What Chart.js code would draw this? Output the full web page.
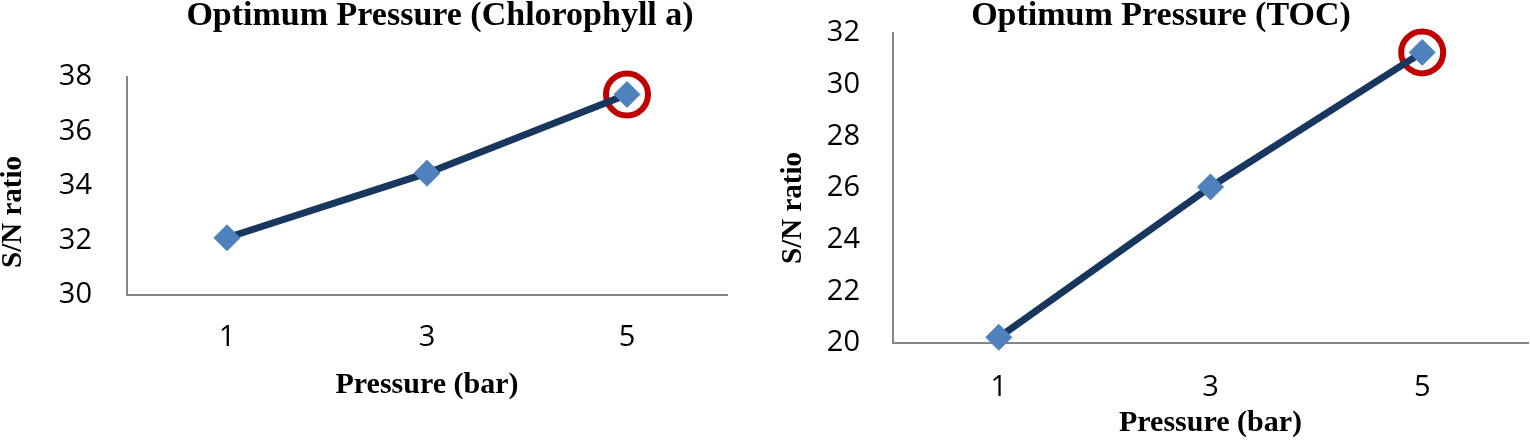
<!DOCTYPE html>
<html>
<head>
<meta charset="utf-8">
<script src="https://cdn.jsdelivr.net/npm/chart.js@4.4.1/dist/chart.umd.min.js"></script>
<style>
    html, body { margin: 0; padding: 0; background: #fff; overflow: hidden; }
    .wrap { position: absolute; top: 0; width: 760px; height: 443px; }
</style>
</head>
<body>
<div class="wrap" style="left:0"><canvas id="chlChart"></canvas></div>
<div class="wrap" style="left:770px"><canvas id="tocChart"></canvas></div>
<script>
// pressure levels (bar) and S/N ratios
const pressureLabels = ['1', '3', '5'];
const chlorophyllSN = [32.1, 34.47, 37.36];
const tocSN = [20.22, 26.04, 31.25];
// the optimum is the last level in both charts
const optimumIndex = 2;

const serif = '"Liberation Serif", "Times New Roman", serif';
const sans = '"Open Sans", "Liberation Sans", sans-serif';

function onlyOptimum(arr) {
    return arr.map(function (v, i) { return i === optimumIndex ? v : null; });
}

// chart title and rotated y title, placed where the original figure has them
const figureText = {
    id: 'figureText',
    afterDraw: function (chart, args, opts) {
        const ctx = chart.ctx;
        (opts.items || []).forEach(function (t) {
            ctx.save();
            ctx.translate(t.x, t.y);
            if (t.rotate) ctx.rotate(t.rotate);
            ctx.font = 'bold ' + t.size + 'px ' + serif;
            ctx.fillStyle = '#000';
            ctx.textAlign = 'center';
            ctx.textBaseline = 'middle';
            ctx.fillText(t.text, 0, 0);
            ctx.restore();
        });
    }
};

function makeChart(canvas, cfg) {
    return new Chart(canvas.getContext('2d'), {
        type: 'line',
        data: {
            labels: pressureLabels,
            datasets: [{
                data: cfg.values,
                borderColor: '#17375E',
                borderWidth: 7,
                pointStyle: 'rectRot',
                pointRadius: 13,
                pointBackgroundColor: '#4F81BD',
                pointBorderColor: '#4F81BD',
                pointBorderWidth: 1,
                tension: 0,
                clip: false,
                order: 1
            }, {
                data: onlyOptimum(cfg.values),
                showLine: false,
                pointStyle: 'circle',
                pointRadius: 21,
                pointBackgroundColor: 'rgba(0,0,0,0)',
                pointBorderColor: '#C00000',
                pointBorderWidth: 6,
                clip: false,
                order: 2
            }]
        },
        options: {
            responsive: true,
            maintainAspectRatio: false,
            animation: false,
            events: [],
            layout: {
                autoPadding: false,
                padding: { left: 0, right: cfg.padRight, top: cfg.padTop, bottom: 0 }
            },
            plugins: {
                legend: { display: false },
                tooltip: { enabled: false },
                figureText: {
                    items: [
                        { text: cfg.title, x: cfg.titleX, y: 16, size: 34 },
                        { text: 'S/N ratio', x: cfg.yTitleX, y: cfg.yTitleY, size: 29, rotate: -Math.PI / 2 }
                    ]
                }
            },
            scales: {
                x: {
                    type: 'category',
                    offset: true,
                    grid: { display: false, drawTicks: false },
                    border: { display: true, color: '#868686', width: 2 },
                    ticks: { color: '#000', padding: cfg.xTickPad, font: { family: sans, size: 29 } },
                    title: {
                        display: true,
                        text: 'Pressure (bar)',
                        color: '#000',
                        font: { family: serif, size: 30, weight: 'bold', lineHeight: 1 },
                        padding: { top: 0, bottom: cfg.xTitleGap }
                    },
                    afterFit: function (scale) {
                        scale.height = cfg.xHeight;
                        scale.paddingLeft = 0;
                        scale.paddingRight = 0;
                    }
                },
                y: {
                    min: cfg.yMin,
                    max: cfg.yMax,
                    grid: { display: false, drawTicks: false },
                    border: { display: true, color: '#868686', width: 2 },
                    ticks: { color: '#000', stepSize: 2, padding: cfg.yTickPad, font: { family: sans, size: 29 } },
                    afterFit: function (scale) {
                        scale.width = cfg.yWidth;
                        scale.paddingTop = 0;
                        scale.paddingBottom = 0;
                    }
                }
            }
        },
        plugins: [figureText]
    });
}

document.addEventListener('DOMContentLoaded', function () {
    makeChart(document.getElementById('chlChart'), {
        title: 'Optimum Pressure (Chlorophyll a)',
        titleX: 440,
        values: chlorophyllSN,
        yMin: 30, yMax: 38,
        padTop: 77,
        padRight: 33,
        yWidth: 127,
        yTickPad: 35,
        xHeight: 148,
        xTickPad: 25,
        xTitleGap: 43,
        yTitleX: 14, yTitleY: 212
    });

    makeChart(document.getElementById('tocChart'), {
        title: 'Optimum Pressure (TOC)',
        titleX: 391,
        values: tocSN,
        yMin: 20, yMax: 32,
        padTop: 33,
        padRight: 2,
        yWidth: 123,
        yTickPad: 33,
        xHeight: 100,
        xTickPad: 27,
        xTitleGap: 5,
        yTitleX: 24, yTitleY: 208
    });
});
</script>
</body>
</html>
